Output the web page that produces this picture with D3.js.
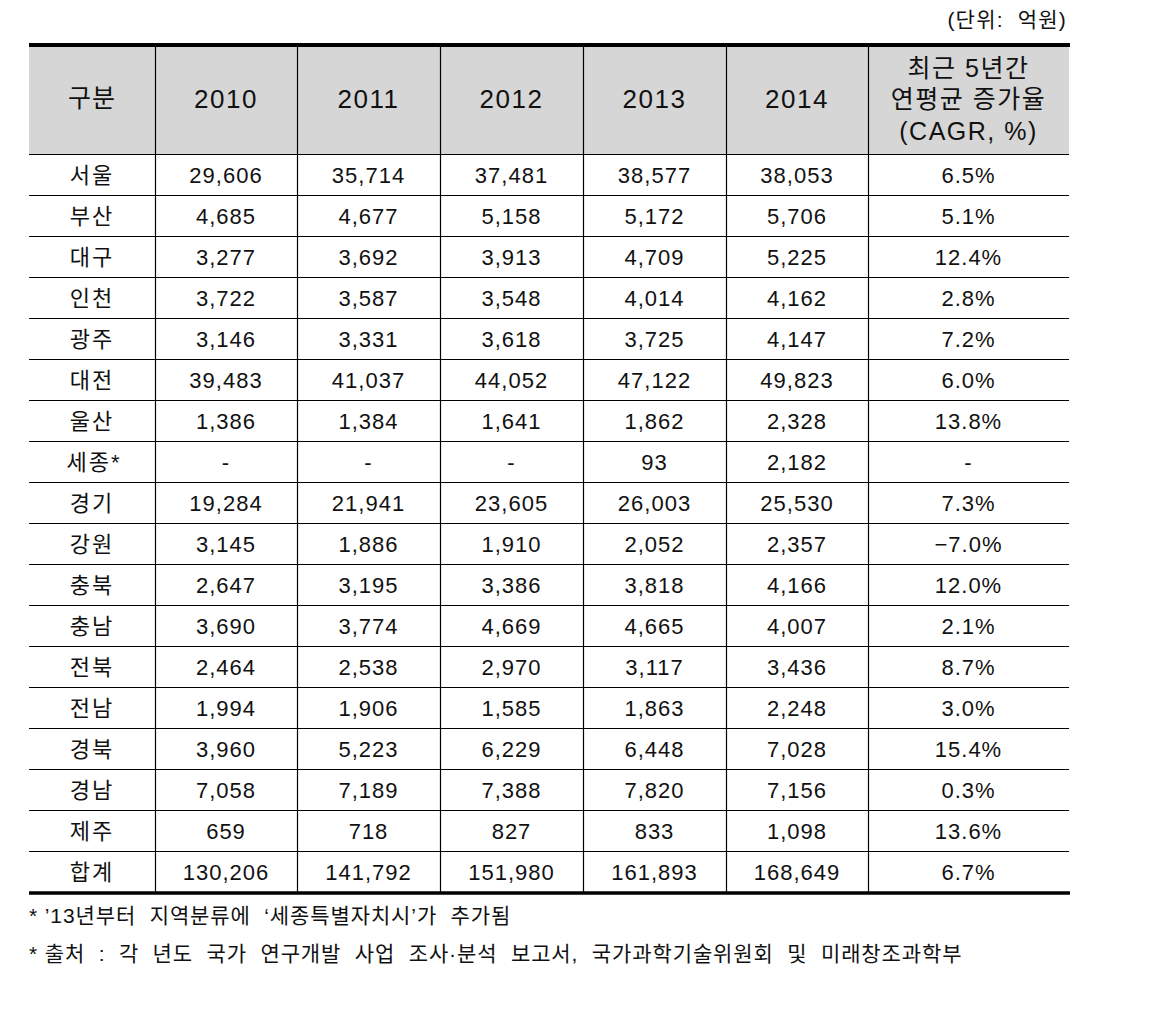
<!DOCTYPE html>
<html><head><meta charset="utf-8">
<script src="https://cdn.jsdelivr.net/npm/d3@7"></script>
<style>
html,body{margin:0;padding:0;background:#fff;}
svg text{font-family:"Liberation Sans","Noto Sans CJK KR",sans-serif;fill:#111;white-space:pre;}
</style></head>
<body>
<svg id="c" width="1163" height="1016"></svg>
<script>
const unitLabel = "(단위:  억원)";
const headerFirst = "구분";
const years = ["2010","2011","2012","2013","2014"];
const cagrHeader = ["최근 5년간","연평균 증가율","(CAGR, %)"];
const regions = ["서울","부산","대구","인천","광주","대전","울산","세종*","경기","강원","충북","충남","전북","전남","경북","경남","제주","합계"];
const v2010 = [29606,4685,3277,3722,3146,39483,1386,null,19284,3145,2647,3690,2464,1994,3960,7058,659,130206];
const v2011 = [35714,4677,3692,3587,3331,41037,1384,null,21941,1886,3195,3774,2538,1906,5223,7189,718,141792];
const v2012 = [37481,5158,3913,3548,3618,44052,1641,null,23605,1910,3386,4669,2970,1585,6229,7388,827,151980];
const v2013 = [38577,5172,4709,4014,3725,47122,1862,93,26003,2052,3818,4665,3117,1863,6448,7820,833,161893];
const v2014 = [38053,5706,5225,4162,4147,49823,2328,2182,25530,2357,4166,4007,3436,2248,7028,7156,1098,168649];
const cagr = ["6.5%","5.1%","12.4%","2.8%","7.2%","6.0%","13.8%","-","7.3%","−7.0%","12.0%","2.1%","8.7%","3.0%","15.4%","0.3%","13.6%","6.7%"];
const notes = ["* ’13년부터  지역분류에  ‘세종특별자치시’가  추가됨",
               "* 출처  :  각  년도  국가  연구개발  사업  조사·분석  보고서,  국가과학기술위원회  및  미래창조과학부"];

const series = [v2010,v2011,v2012,v2013,v2014];
const fmt = d3.format(",");

const svg = d3.select("#c");
// column layout
const colWeights = [126,142,143,143,143,142,201];
const cum = [0]; colWeights.forEach(w=>cum.push(cum[cum.length-1]+w));
const x = d3.scaleLinear().domain([0,cum[cum.length-1]]).range([29,1069]);
const colEdges = cum.map(c=>x(c));
const colCenter = i => (colEdges[i]+colEdges[i+1])/2;

const headTop = 47, headBot = 154, bodyBot = 892;
const y = d3.scaleBand().domain(regions).range([headBot, bodyBot]);

// unit label
svg.append("text").attr("x",1067).attr("y",27).attr("text-anchor","end")
  .attr("font-size",21).attr("letter-spacing",1.2).text(unitLabel);

// header background
svg.append("rect").attr("x",colEdges[0]).attr("y",headTop)
  .attr("width",colEdges[7]-colEdges[0]).attr("height",headBot-headTop).attr("fill","#d6d6d6");

// horizontal grid lines
const g = svg.append("g").attr("stroke","#000").attr("stroke-width",1.2);
regions.forEach((r,i)=>{
  const yy = Math.round(y(r));
  g.append("line").attr("x1",colEdges[0]).attr("x2",colEdges[7]).attr("y1",yy+0.5).attr("y2",yy+0.5);
});
// vertical lines
for(let i=1;i<7;i++){
  g.append("line").attr("x1",Math.round(colEdges[i])+0.5).attr("x2",Math.round(colEdges[i])+0.5).attr("y1",headTop).attr("y2",bodyBot);
}
// thick top and bottom
svg.append("line").attr("x1",colEdges[0]).attr("x2",colEdges[7]+1).attr("y1",45).attr("y2",45)
  .attr("stroke","#000").attr("stroke-width",4);
svg.append("line").attr("x1",colEdges[0]).attr("x2",colEdges[7]+1).attr("y1",bodyBot+1).attr("y2",bodyBot+1)
  .attr("stroke","#000").attr("stroke-width",3.5);

// header text
const hmid = (headTop+headBot)/2;
svg.append("text").attr("x",colCenter(0)).attr("y",hmid+6).attr("text-anchor","middle")
  .attr("font-size",25).attr("letter-spacing",1).text(headerFirst);
years.forEach((yr,i)=>{
  svg.append("text").attr("x",colCenter(i+1)).attr("y",hmid+7).attr("text-anchor","middle")
    .attr("font-size",26).attr("letter-spacing",1.5).text(yr);
});
cagrHeader.forEach((t,k)=>{
  svg.append("text").attr("x",colCenter(6)).attr("y",hmid-24+k*31.5).attr("text-anchor","middle")
    .attr("font-size",25).attr("letter-spacing",1.5).text(t);
});

// body
const rowsG = svg.append("g");
regions.forEach((r,i)=>{
  const cy = y(r)+y.bandwidth()/2+8;
  rowsG.append("text").attr("x",colCenter(0)+(r.endsWith("*")?2:0)).attr("y",cy).attr("text-anchor","middle")
    .attr("font-size",22).attr("letter-spacing",2).text(r);
  series.forEach((s,j)=>{
    const v = s[i];
    rowsG.append("text").attr("x",colCenter(j+1)).attr("y",cy).attr("text-anchor","middle")
      .attr("font-size",22).attr("letter-spacing",1).text(v==null?"-":fmt(v));
  });
  rowsG.append("text").attr("x",colCenter(6)).attr("y",cy).attr("text-anchor","middle")
    .attr("font-size",22).attr("letter-spacing",1).text(cagr[i]);
});

// notes
notes.forEach((n,i)=>{
  svg.append("text").attr("x",29).attr("y",923+i*38).attr("font-size",21).attr("letter-spacing",0.9).text(n);
});
</script>
</body></html>
